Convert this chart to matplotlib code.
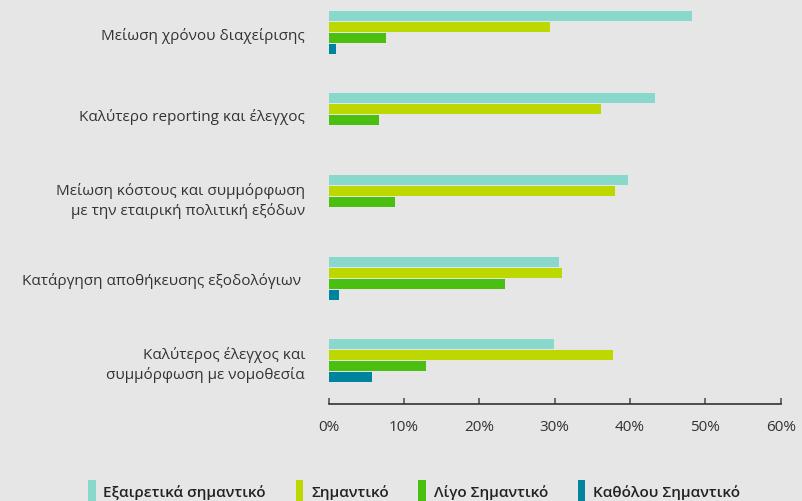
import matplotlib
matplotlib.use("Agg")
import matplotlib.pyplot as plt
from matplotlib.patches import Patch
import numpy as np

plt.rcParams['font.family'] = ['Open Sans', 'DejaVu Sans']

categories = [
    "Μείωση χρόνου διαχείρισης",
    "Καλύτερο reporting και έλεγχος",
    "Μείωση κόστους και συμμόρφωση\nμε την εταιρική πολιτική εξόδων",
    "Κατάργηση αποθήκευσης εξοδολόγιων ",
    "Καλύτερος έλεγχος και\nσυμμόρφωση με νομοθεσία",
]
series_names = ["Εξαιρετικά σημαντικό", "Σημαντικό", "Λίγο Σημαντικό", "Καθόλου Σημαντικό"]
extremely = [48.2, 43.3, 39.7, 30.6, 29.9]
important = [29.4, 36.2, 38.0, 31.0, 37.8]
little = [7.6, 6.7, 8.8, 23.4, 12.9]
not_at_all = [1.0, 0.0, 0.0, 1.4, 5.8]
colors = ["#88d8cc", "#bdd700", "#4abf10", "#00849e"]
xticks = [0, 10, 20, 30, 40, 50, 60]
xticklabels = ["0%", "10%", "20%", "30%", "40%", "50%", "60%"]

bg = "#e6e6e6"
fig = plt.figure(figsize=(8.03, 5.02), dpi=100, facecolor=bg)
ax = fig.add_axes([328.7 / 803, (502 - 405) / 502, (780.7 - 328.7) / 803, 405 / 502])
ax.set_facecolor(bg)

y = np.arange(len(categories))
pitch = 11 / 82
h = 10 / 82
all_series = [extremely, important, little, not_at_all]
for i, (vals, c) in enumerate(zip(all_series, colors)):
    offs = (i - 1.5) * pitch
    ax.barh(y + offs, vals, height=h, color=c, label=series_names[i])

ax.set_ylim(4.537, -0.41)
ax.set_xlim(0, 60)
ax.set_yticks(y)
ax.set_yticklabels(categories, fontsize=11, color="#333333", linespacing=1.3)
ax.tick_params(axis='y', length=0, pad=17)
ax.set_xticks(xticks)
ax.set_xticklabels(xticklabels, fontsize=11, color="#333333")
ax.tick_params(axis='x', direction='in', length=4, width=1.2, color="#555555", pad=11)
for s in ['top', 'right', 'left']:
    ax.spines[s].set_visible(False)
ax.spines['bottom'].set_color("#333333")
ax.spines['bottom'].set_linewidth(1.2)

handles = [Patch(facecolor=c, edgecolor='none') for c in colors]
leg = fig.legend(handles, series_names, loc='center', bbox_to_anchor=(414 / 803, 1 - 492 / 502),
                 ncol=4, frameon=False, handlelength=0.5, handleheight=1.8,
                 handletextpad=0.5, columnspacing=1.95,
                 prop={'size': 11, 'weight': 'semibold'})
for t in leg.get_texts():
    t.set_color("#222222")

fig.savefig("out.png", dpi=100, facecolor=bg)
